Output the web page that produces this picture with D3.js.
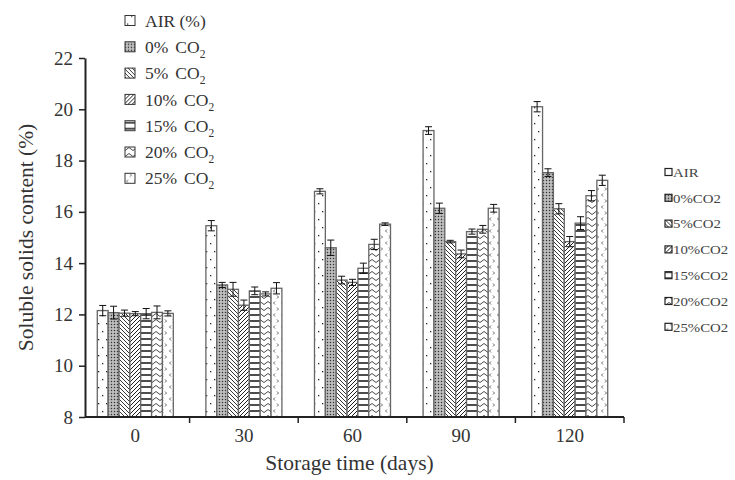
<!DOCTYPE html>
<html>
<head>
<meta charset="utf-8">
<script src="https://cdn.jsdelivr.net/npm/d3@7"></script>
<style>
  body { margin: 0; background: #fff; }
  svg { display: block; font-family: "Liberation Serif", "DejaVu Serif", serif; }
</style>
</head>
<body>
<svg id="chart" width="735" height="480"></svg>
<script>
// storage days on the x axis
let days = ["0", "30", "60", "90", "120"];
// series keys and legend labels
let seriesKeys = ["air", "c0", "c5", "c10", "c15", "c20", "c25"];
let legendMain = ["AIR (%)", "0%", "5%", "10%", "15%", "20%", "25%"];
let legendSide = ["AIR", "0%CO2", "5%CO2", "10%CO2", "15%CO2", "20%CO2", "25%CO2"];
let yTicks = [8, 10, 12, 14, 16, 18, 20, 22];

// soluble solids (%) per series, one value per day
let airVals = [12.15, 15.46, 16.80, 19.17, 20.10];
let c0Vals  = [12.07, 13.15, 14.60, 16.14, 17.53];
let c5Vals  = [12.05, 12.98, 13.34, 14.84, 16.12];
let c10Vals = [12.03, 12.36, 13.25, 14.36, 14.84];
let c15Vals = [12.03, 12.92, 13.80, 15.23, 15.56];
let c20Vals = [12.08, 12.80, 14.73, 15.32, 16.63];
let c25Vals = [12.04, 13.02, 15.52, 16.14, 17.23];

// error bar half-widths
let airErr = [0.20, 0.20, 0.10, 0.15, 0.20];
let c0Err  = [0.25, 0.10, 0.30, 0.20, 0.15];
let c5Err  = [0.12, 0.27, 0.15, 0.05, 0.20];
let c10Err = [0.08, 0.20, 0.12, 0.15, 0.20];
let c15Err = [0.20, 0.15, 0.20, 0.10, 0.25];
let c20Err = [0.25, 0.08, 0.20, 0.15, 0.20];
let c25Err = [0.10, 0.22, 0.05, 0.15, 0.20];

let allVals = [airVals, c0Vals, c5Vals, c10Vals, c15Vals, c20Vals, c25Vals];
let allErr = [airErr, c0Err, c5Err, c10Err, c15Err, c20Err, c25Err];

let rows = [];
days.forEach((d, i) => {
        seriesKeys.forEach((k, j) => {
                rows.push({ day: d, key: k, value: allVals[j][i], err: allErr[j][i] });
        });
});

let svg = d3.select("#chart");
let defs = svg.append("defs");

// fill patterns, one per series
function pattern(id, w, h, draw) {
        let p = defs.append("pattern")
                .attr("id", id)
                .attr("patternUnits", "userSpaceOnUse")
                .attr("width", w)
                .attr("height", h);
        p.append("rect").attr("width", w).attr("height", h).attr("fill", "#fff");
        draw(p);
}
pattern("p-air", 8, 16, p => {
        p.append("rect").attr("x", 2).attr("y", 3).attr("width", 1.3).attr("height", 1.3).attr("fill", "#222");
        p.append("rect").attr("x", 6).attr("y", 11).attr("width", 1.3).attr("height", 1.3).attr("fill", "#222");
});
pattern("p-c0", 3, 3, p => {
        p.append("rect").attr("width", 3).attr("height", 3).attr("fill", "#a8a8a8");
        p.append("rect").attr("x", 0).attr("y", 0).attr("width", 1).attr("height", 1).attr("fill", "#333");
        p.append("rect").attr("x", 1.5).attr("y", 1.5).attr("width", 1).attr("height", 1).attr("fill", "#fff");
});
pattern("p-c5", 4, 4, p => {
        p.append("path").attr("d", "M-1,-1L5,5M-1,3L1,5M3,-1L5,1")
                .attr("stroke", "#222").attr("stroke-width", 0.9);
});
pattern("p-c10", 4, 4, p => {
        p.append("path").attr("d", "M-1,5L5,-1M-1,1L1,-1M3,5L5,3")
                .attr("stroke", "#222").attr("stroke-width", 1);
});
pattern("p-c15", 6, 6, p => {
        p.append("path").attr("d", "M0,3H6").attr("stroke", "#111").attr("stroke-width", 1.5);
});
pattern("p-c20", 8, 6, p => {
        p.append("path").attr("d", "M0,4.5L4,1.5L8,4.5").attr("fill", "none")
                .attr("stroke", "#333").attr("stroke-width", 0.9);
});
pattern("p-c25", 8, 12, p => {
        p.append("path").attr("d", "M3,1.5L1.5,3L3,4.5M5,7.5L6.5,9L5,10.5").attr("fill", "none")
                .attr("stroke", "#555").attr("stroke-width", 0.9);
});

let x0 = d3.scaleBand()
        .domain(days)
        .range([81, 624])
        .paddingInner(0.3)
        .paddingOuter(0.15);

let x1 = d3.scaleBand()
        .domain(seriesKeys)
        .range([0, x0.bandwidth()]);

let y = d3.scaleLinear()
        .domain([8, 22])
        .range([417, 58]);

// bars
let bars = svg.append("g")
        .selectAll("rect")
        .data(rows)
        .join("rect")
        .attr("x", d => x0(d.day) + x1(d.key))
        .attr("y", d => y(d.value))
        .attr("width", x1.bandwidth())
        .attr("height", d => y(8) - y(d.value))
        .attr("fill", d => `url(#p-${d.key})`)
        .attr("stroke", "#666")
        .attr("stroke-width", 1.3);

// error bars
let eb = svg.append("g")
        .attr("stroke", "#111")
        .attr("stroke-width", 1)
        .selectAll("g")
        .data(rows)
        .join("g")
        .attr("transform", d => `translate(${x0(d.day) + x1(d.key) + x1.bandwidth() / 2},0)`);
eb.append("line")
        .attr("y1", d => y(d.value + d.err))
        .attr("y2", d => y(d.value - d.err));
eb.append("line")
        .attr("x1", -3.5).attr("x2", 3.5)
        .attr("y1", d => y(d.value + d.err))
        .attr("y2", d => y(d.value + d.err));
eb.append("line")
        .attr("x1", -3.5).attr("x2", 3.5)
        .attr("y1", d => y(d.value - d.err))
        .attr("y2", d => y(d.value - d.err));

// y axis
let yAxis = svg.append("g")
        .attr("transform", "translate(85,0)")
        .call(d3.axisLeft(y).tickValues(yTicks).tickSize(6).tickSizeOuter(0).tickPadding(6));
yAxis.select(".domain").attr("stroke", "#222").attr("stroke-width", 2);
yAxis.selectAll(".tick line").attr("stroke", "#222").attr("stroke-width", 1.5);
yAxis.selectAll(".tick text")
        .attr("font-family", "Liberation Serif")
        .attr("font-size", 19)
        .attr("fill", "#333");

// x axis
let xAxis = svg.append("g")
        .attr("transform", "translate(0,417)")
        .call(d3.axisBottom(x0).tickSize(0).tickPadding(12));
xAxis.select(".domain").remove();
xAxis.selectAll(".tick text")
        .attr("font-family", "Liberation Serif")
        .attr("font-size", 19)
        .attr("fill", "#333");
xAxis.append("line")
        .attr("x1", 85).attr("x2", x0.range()[1])
        .attr("stroke", "#222").attr("stroke-width", 2);
xAxis.selectAll(".xtick")
        .data(days)
        .join("line")
        .attr("class", "xtick")
        .attr("x1", d => x0(d) + x0.bandwidth() + x0.step() * x0.paddingInner() / 2)
        .attr("x2", d => x0(d) + x0.bandwidth() + x0.step() * x0.paddingInner() / 2)
        .attr("y1", 0).attr("y2", 6)
        .attr("stroke", "#222").attr("stroke-width", 1.5);

// axis titles
svg.append("text")
        .attr("x", (x0.range()[0] + x0.range()[1]) / 2 - 3)
        .attr("y", 470)
        .attr("text-anchor", "middle")
        .attr("font-size", 21.5)
        .attr("fill", "#333")
        .text("Storage time (days)");
svg.append("text")
        .attr("transform", `translate(25,${(y(8) + y(22)) / 2}) rotate(-90)`)
        .attr("text-anchor", "middle")
        .attr("dy", "0.35em")
        .attr("font-size", 21.5)
        .attr("fill", "#333")
        .text("Soluble solids content (%)");

// main legend (top left)
let lg = svg.append("g")
        .selectAll("g")
        .data(seriesKeys)
        .join("g")
        .attr("transform", (d, i) => `translate(125,${20.5 + i * 26.3})`);
lg.append("rect")
        .attr("x", 0).attr("y", -5)
        .attr("width", 10).attr("height", 10)
        .attr("fill", d => `url(#p-${d})`)
        .attr("stroke", "#333").attr("stroke-width", 1);
let lt = lg.append("text")
        .attr("x", 20)
        .attr("dy", "0.35em")
        .attr("font-size", 17.5)
        .attr("fill", "#333");
lt.append("tspan").text((d, i) => legendMain[i]);
lt.filter((d, i) => i > 0).append("tspan").attr("dx", 7).text("CO");
lt.filter((d, i) => i > 0).append("tspan").attr("dy", 5).attr("font-size", 11.5).text("2");

// side legend (right)
let sg = svg.append("g")
        .selectAll("g")
        .data(seriesKeys)
        .join("g")
        .attr("transform", (d, i) => `translate(665,${172 + i * 25.8})`);
sg.append("rect")
        .attr("x", 0).attr("y", -3.5)
        .attr("width", 7).attr("height", 7)
        .attr("fill", d => `url(#p-${d})`)
        .attr("stroke", "#222").attr("stroke-width", 1.2);
sg.append("text")
        .attr("transform", "translate(8,0) scale(1.1,1)")
        .attr("dy", "0.35em")
        .attr("font-size", 13.5)
        .attr("fill", "#444")
        .text((d, i) => legendSide[i]);
</script>
</body>
</html>
